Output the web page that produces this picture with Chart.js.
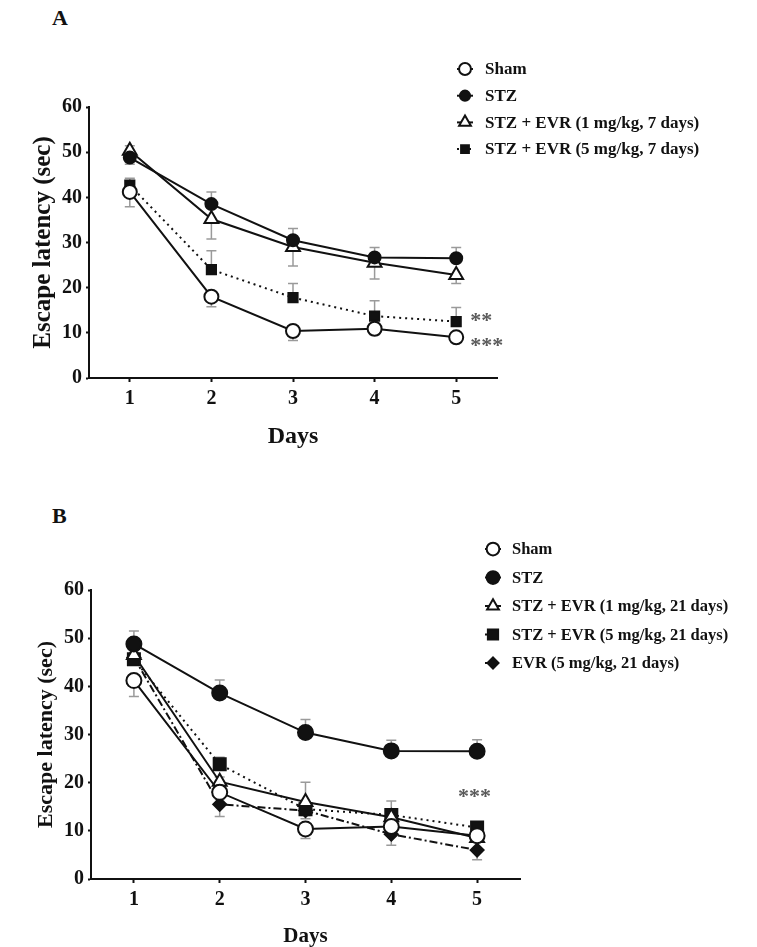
<!DOCTYPE html>
<html>
<head>
<meta charset="utf-8">
<script src="https://cdn.jsdelivr.net/npm/chart.js@4.4.0/dist/chart.umd.min.js"></script>
<style>
  body { margin: 0; background: #fff; width: 757px; height: 947px; position: relative; overflow: hidden; font-family: "Liberation Serif", serif; }
  .panel { position: absolute; left: 0; width: 757px; }
  #wrapA { top: 0; height: 480px; }
  #wrapB { top: 480px; height: 467px; }
  .tag { position: absolute; left: 52px; font-weight: bold; font-size: 22px; color: #111; }
</style>
</head>
<body>
<div class="tag" style="top:5px">A</div>
<div class="tag" style="top:503px">B</div>
<div class="panel" id="wrapA"><canvas id="chartA" width="757" height="480"></canvas></div>
<div class="panel" id="wrapB"><canvas id="chartB" width="757" height="467"></canvas></div>
<script>
// Data
const days = ["1", "2", "3", "4", "5"];

// Panel A (7 days)
const shamA = [41.2, 18.0, 10.4, 10.9, 9.0];
const stzA = [48.8, 38.5, 30.5, 26.7, 26.5];
const evr1A = [50.3, 35.2, 29.0, 25.5, 22.8];
const evr5A = [42.7, 24.0, 17.8, 13.7, 12.5];
// signed SEM: + drawn upward, - drawn downward
const shamErrA = [-3.3, -2.2, -2.1, -1.4, -0.8];
const stzErrA = [2.6, 2.7, 2.6, 2.2, 2.4];
const evr1ErrA = [-3.0, -4.4, -4.2, -3.6, -1.9];
const evr5ErrA = [1.5, 4.2, 3.1, 3.4, 3.1];

// Panel B (21 days)
const shamB = [41.2, 18.0, 10.4, 10.9, 9.0];
const stzB = [48.8, 38.6, 30.4, 26.6, 26.5];
const evr1B = [46.5, 20.2, 16.0, 12.8, 8.5];
const evr5B = [45.6, 23.8, 14.5, 13.3, 10.7];
const evrOnlyB = [46.0, 15.5, 14.2, 9.3, 6.0];
const shamErrB = [-3.3, -1.5, -2.0, -1.4, -0.8];
const stzErrB = [2.7, 2.7, 2.7, 2.2, 2.4];
const evr1ErrB = [1.0, 1.0, 4.1, 1.0, 1.0];
const evr5ErrB = [1.5, 1.5, -2.0, 2.9, 1.0];
const evrOnlyErrB = [-1.0, -2.5, -1.0, -2.3, -2.0];

const FONT = "'Liberation Serif', 'Times New Roman', serif";
const INK = "#111";

// gray error bars with caps, drawn under the points
const errorBars = {
  id: "errorBars",
  beforeDatasetsDraw(chart) {
    const { ctx, scales: { x, y } } = chart;
    ctx.save();
    ctx.strokeStyle = "#9a9a9a";
    ctx.lineWidth = 1.5;
    chart.data.datasets.forEach((ds) => {
      if (!ds.errors) return;
      ds.data.forEach((v, i) => {
        const px = x.getPixelForValue(i);
        const y0 = y.getPixelForValue(v);
        const y1 = y.getPixelForValue(v + ds.errors[i]);
        ctx.beginPath();
        ctx.moveTo(px, y0);
        ctx.lineTo(px, y1);
        ctx.moveTo(px - 5, y1);
        ctx.lineTo(px + 5, y1);
        ctx.stroke();
      });
    });
    ctx.restore();
  }
};

// legend drawn beside the plot, built from the datasets
const sideLegend = {
  id: "sideLegend",
  afterDraw(chart, args, opts) {
    const { ctx } = chart;
    chart.data.datasets.forEach((ds, i) => {
      const cy = opts.top + i * opts.gap;
      ctx.save();
      ctx.strokeStyle = INK;
      ctx.lineWidth = ds.borderWidth;
      ctx.setLineDash(ds.borderDash || []);
      ctx.beginPath();
      ctx.moveTo(opts.x - 8, cy);
      ctx.lineTo(opts.x + 8, cy);
      ctx.stroke();
      ctx.setLineDash([]);
      ctx.fillStyle = ds.pointBackgroundColor;
      ctx.lineWidth = ds.pointBorderWidth;
      Chart.helpers.drawPoint(ctx, {
        pointStyle: ds.pointStyle,
        radius: ds.pointRadius * 0.85,
        borderWidth: ds.pointBorderWidth
      }, opts.x, cy);
      ctx.fillStyle = INK;
      ctx.font = "bold " + opts.size + "px " + FONT;
      ctx.textBaseline = "middle";
      ctx.textAlign = "left";
      ctx.fillText(ds.label, opts.textX, cy + 1);
      ctx.restore();
    });
  }
};

// significance stars next to a given point
const stars = {
  id: "stars",
  afterDatasetsDraw(chart, args, opts) {
    const { ctx, scales: { x, y } } = chart;
    ctx.save();
    ctx.fillStyle = "#5a5a5a";
    ctx.font = "bold 22px " + FONT;
    ctx.textBaseline = "middle";
    ctx.textAlign = "left";
    (opts.marks || []).forEach((m) => {
      const ds = chart.data.datasets[m.dataset];
      const px = x.getPixelForValue(m.index) + m.dx;
      const py = y.getPixelForValue(ds.data[m.index]) + m.dy;
      ctx.fillText(m.text, px, py);
    });
    ctx.restore();
  }
};

function series(label, data, errors, style, r, dash) {
  return {
    label: label,
    data: data,
    errors: errors,
    borderColor: INK,
    borderWidth: 2,
    borderDash: dash,
    pointStyle: style.shape,
    pointRadius: r,
    pointHoverRadius: r,
    pointBorderWidth: 2,
    pointBorderColor: INK,
    pointBackgroundColor: style.fill ? INK : "#fff",
    tension: 0,
    fill: false
  };
}

function makeOptions(cfg) {
  return {
    responsive: false,
    animation: false,
    events: [],
    layout: { padding: { top: cfg.top, right: cfg.right, left: 0, bottom: 0 } },
    plugins: {
      legend: { display: false },
      tooltip: { enabled: false },
      sideLegend: cfg.legend,
      stars: { marks: cfg.marks }
    },
    scales: {
      x: {
        type: "category",
        offset: true,
        border: { color: INK, width: 2 },
        grid: { display: true, drawOnChartArea: false, drawTicks: true, tickLength: 4, tickWidth: 2, tickColor: INK },
        ticks: { color: INK, font: { family: FONT, size: cfg.tickSize, weight: "bold" }, padding: 5 },
        title: { display: true, text: "Days", color: INK, font: { family: FONT, size: cfg.daysSize, weight: "bold", lineHeight: 1 }, padding: { top: 0, bottom: cfg.daysPad } },
        afterFit: (s) => { s.height = cfg.xHeight; }
      },
      y: {
        min: 0,
        max: 60,
        border: { color: INK, width: 2 },
        grid: { display: true, drawOnChartArea: false, drawTicks: true, tickLength: 3, tickWidth: 2, tickColor: INK },
        ticks: { stepSize: 10, color: INK, font: { family: FONT, size: cfg.tickSize, weight: "bold" }, padding: 4 },
        title: { display: true, text: "Escape latency (sec)", color: INK, font: { family: FONT, size: cfg.ySize, weight: "bold", lineHeight: 1 }, padding: { top: cfg.yPad, bottom: 0 } },
        afterFit: (s) => { s.width = cfg.yWidth; }
      }
    }
  };
}

const openCircle = { shape: "circle", fill: false };
const dot = { shape: "circle", fill: true };
const tri = { shape: "triangle", fill: false };
const square = { shape: "rect", fill: true };
const diamond = { shape: "rectRot", fill: true };

new Chart(document.getElementById("chartA"), {
  type: "line",
  data: {
    labels: days,
    datasets: [
      series("Sham", shamA, shamErrA, openCircle, 7, []),
      series("STZ", stzA, stzErrA, dot, 6, []),
      series("STZ + EVR (1 mg/kg, 7 days)", evr1A, evr1ErrA, tri, 8, []),
      series("STZ + EVR (5 mg/kg, 7 days)", evr5A, evr5ErrA, square, 6.5, [2, 4])
    ]
  },
  options: makeOptions({
    top: 107, right: 260, xHeight: 102, yWidth: 89,
    tickSize: 20, daysSize: 24, daysPad: 31, ySize: 25, yPad: 31,
    legend: { x: 465, textX: 485, top: 69, gap: 26.7, size: 17 },
    marks: [
      { dataset: 3, index: 4, dx: 14, dy: 0, text: "**" },
      { dataset: 0, index: 4, dx: 14, dy: 9, text: "***" }
    ]
  }),
  plugins: [errorBars, sideLegend, stars]
});

new Chart(document.getElementById("chartB"), {
  type: "line",
  data: {
    labels: days,
    datasets: [
      series("Sham", shamB, shamErrB, openCircle, 7.5, []),
      series("STZ", stzB, stzErrB, dot, 7.5, []),
      series("STZ + EVR (1 mg/kg, 21 days)", evr1B, evr1ErrB, tri, 8, []),
      series("STZ + EVR (5 mg/kg, 21 days)", evr5B, evr5ErrB, square, 8.5, [2, 4]),
      series("EVR (5 mg/kg, 21 days)", evrOnlyB, evrOnlyErrB, diamond, 6.5, [8, 3, 2, 3])
    ]
  },
  options: makeOptions({
    top: 110, right: 237, xHeight: 68, yWidth: 91,
    tickSize: 20, daysSize: 21, daysPad: 0, ySize: 22, yPad: 35,
    legend: { x: 493, textX: 512, top: 69, gap: 28.5, size: 16.5 },
    marks: [
      { dataset: 0, index: 4, dx: -19, dy: -38, text: "***" }
    ]
  }),
  plugins: [errorBars, sideLegend, stars]
});
</script>
</body>
</html>
